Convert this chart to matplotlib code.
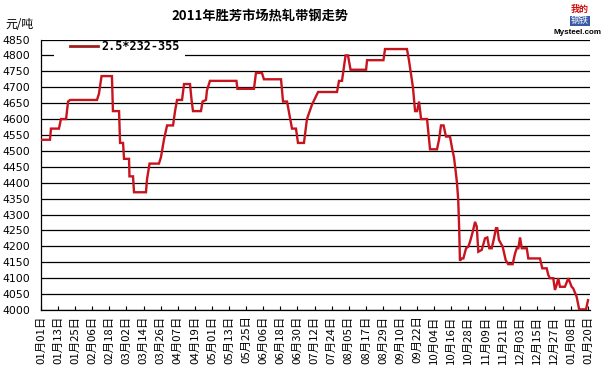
import matplotlib
matplotlib.use("Agg")
import matplotlib.pyplot as plt
from matplotlib.patches import Rectangle
import datetime as dt

plt.rcParams['font.family'] = ['Noto Sans CJK SC', 'DejaVu Sans']

title = "2011年胜芳市场热轧带钢走势"
unit_label = "元/吨"
series_name = "2.5*232-355"

# day offsets from 2011-01-01 and price (元/吨)
days = [0, 6.3, 7.0, 12.6, 14.0, 17.6, 19.0, 20.4, 39.3, 40.7, 42.5, 49.8, 50.5, 54.8,
        55.5, 57.6, 58.3, 61.8, 62.1, 64.6, 65.3, 73.7, 74.4, 76.2, 82.8, 84.2, 86.3,
        88.5, 92.7, 94.1, 95.5, 99.0, 100.4, 104.6, 105.7, 106.7, 112.3, 113.4, 115.8,
        116.5, 118.6, 137.2, 137.9, 149.5, 150.9, 155.1, 156.5, 168.5, 169.9, 172.7,
        176.2, 179.0, 180.4, 184.6, 186.7, 190.2, 194.5, 207.8, 209.2, 211.3, 213.8,
        215.5, 217.3, 228.2, 228.9, 240.4, 241.5, 256.9, 258.3, 261.1, 262.6, 264.0,
        265.4, 266.8, 271.0, 273.1, 278.0, 279.4, 280.8, 282.6, 284.3, 287.1, 288.5,
        289.9, 291.0, 292.0, 292.9, 293.6, 294.1, 295.3, 296.5, 298.4, 300.0, 301.2,
        303.1, 304.7, 305.9, 307.0, 309.4, 311.7, 313.3, 314.7, 316.4, 318.0, 319.4,
        320.3, 321.5, 324.1, 326.2, 328.0, 331.1, 332.8, 334.0, 335.1, 336.3, 337.5,
        341.0, 342.1, 350.3, 351.9, 355.0, 356.1, 357.3, 359.6, 360.8, 362.0, 363.1,
        364.3, 367.8, 370.2, 372.5, 373.6, 376.0, 377.8, 382.6, 384.0]
prices = [4535, 4535, 4570, 4570, 4600, 4600, 4655, 4660, 4660, 4680, 4735, 4735, 4625, 4625,
          4525, 4525, 4475, 4475, 4420, 4420, 4370, 4370, 4410, 4460, 4460, 4480, 4535,
          4580, 4580, 4625, 4660, 4660, 4710, 4710, 4660, 4625, 4625, 4655, 4660,
          4690, 4720, 4720, 4695, 4695, 4745, 4745, 4725, 4725, 4655, 4655,
          4570, 4570, 4525, 4525, 4600, 4645, 4685, 4685, 4720, 4720, 4800,
          4800, 4755, 4755, 4785, 4785, 4820, 4820, 4785, 4700, 4625, 4625,
          4655, 4600, 4600, 4505, 4505, 4535, 4580, 4580, 4545, 4545, 4510,
          4480, 4440, 4400, 4346, 4250, 4155, 4162, 4162, 4194, 4199, 4215,
          4246, 4277, 4262, 4183, 4189, 4225, 4228, 4194, 4194, 4225, 4257,
          4257, 4220, 4199, 4157, 4144, 4144, 4178, 4194, 4194, 4228, 4194,
          4194, 4162, 4162, 4131, 4131, 4110, 4100, 4100, 4063, 4079, 4100,
          4073, 4073, 4100, 4073, 4068, 4042, 4002, 4002, 4031]

start = dt.date(2011, 1, 1)
tick_days = list(range(0, 385, 12))
tick_labels = [(start + dt.timedelta(days=d)).strftime("%m月%d日") for d in tick_days]
y_ticks = list(range(4000, 4851, 50))

W, H = 604, 375
fig = plt.figure(figsize=(W/100, H/100), dpi=100)
ax = fig.add_axes([41/W, 1-310/H, (590-41)/W, (310-39.5)/H])

for yv in y_ticks:
    ax.axhline(yv, color='black', lw=0.9, zorder=1)

ax.plot(days, prices, color='#c8141e', lw=1.7, zorder=3, label=series_name,
        solid_joinstyle='miter')

ax.set_xlim(0, 385.4)
ax.set_ylim(4000, 4850)
ax.set_yticks(y_ticks)
ax.set_yticklabels([str(v) for v in y_ticks], fontsize=7.8, family='DejaVu Sans')
ax.tick_params(axis='y', length=0, pad=8)
ax.set_xticks(tick_days)
ax.set_xticklabels(tick_labels, rotation=90, fontsize=8.2,
                   family=['Noto Sans CJK SC', 'DejaVu Sans'])
ax.tick_params(axis='x', direction='in', length=3, width=0.8, pad=4)
for s in ['top', 'right']:
    ax.spines[s].set_visible(False)
ax.spines['left'].set_linewidth(0.9)
ax.spines['bottom'].set_linewidth(0.9)

# white area behind legend (hides part of the 4800 gridline as in the original)
ax.add_patch(Rectangle(((54-41)/549, (310-60)/270.5), (185-54)/549, 17/270.5,
                       transform=ax.transAxes, facecolor='white', edgecolor='none',
                       zorder=2))

leg = ax.legend(loc='center left', bbox_to_anchor=((64-41)/549, (310-47)/270.5),
                frameon=False,
                prop={'family': 'DejaVu Sans Mono', 'weight': 'bold', 'size': 8.5},
                handlelength=2.4, handletextpad=0.3, borderpad=0.0)
leg.get_lines()[0].set_color('#a01e1e')
leg.get_lines()[0].set_linewidth(2)
leg.set_zorder(4)

fig.text(260/W, 1-17/H, title, ha='center', va='center', fontsize=9.5,
         fontweight='bold', family=['Noto Sans CJK SC', 'DejaVu Sans'])
fig.text(5/W, 1-25/H, unit_label, ha='left', va='center', fontsize=8.5,
         family=['Noto Sans CJK SC', 'DejaVu Sans'])
fig.text(580/W, 1-9/H, "我的", ha='center', va='center', fontsize=6.5,
         color='#d01010', fontweight='bold', family=['Noto Sans CJK SC', 'DejaVu Sans'])
fig.text(580/W, 1-21/H, "钢铁", ha='center', va='center', fontsize=6.5,
         color='white', family=['Noto Sans CJK SC', 'DejaVu Sans'],
         bbox=dict(boxstyle='square,pad=0.1', facecolor='#3a5aa8', edgecolor='none'))
fig.text(577/W, 1-32/H, "Mysteel.com", ha='center', va='center', fontsize=5.8,
         fontweight='bold', family='Liberation Sans')

fig.savefig("out.png", dpi=100)
